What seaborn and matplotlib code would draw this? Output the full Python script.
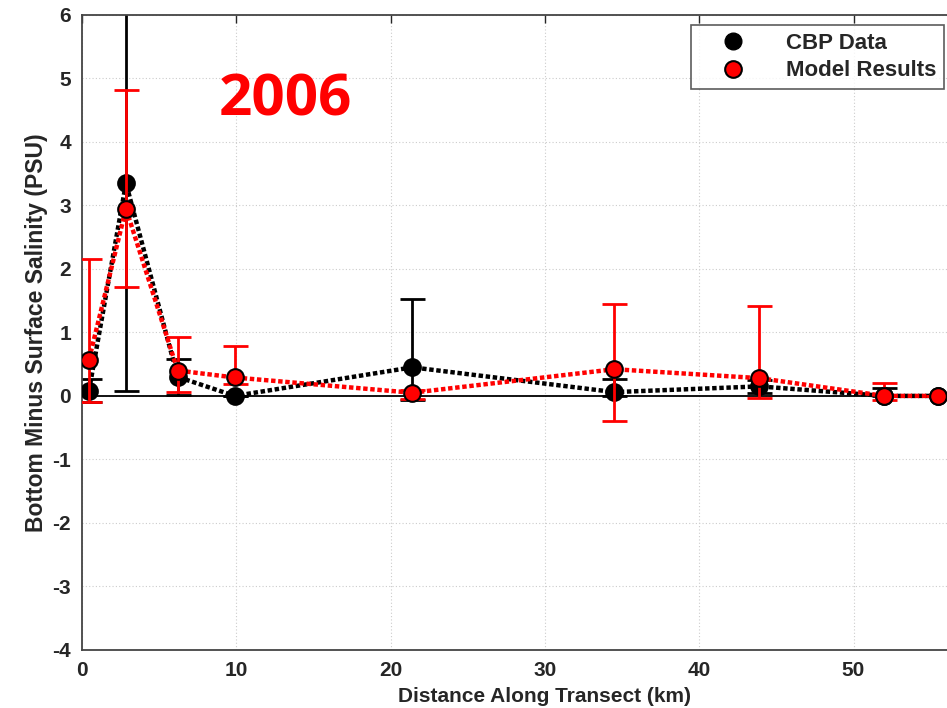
import numpy as np
import pandas as pd
import matplotlib
matplotlib.use("Agg")
import matplotlib.pyplot as plt
import seaborn as sns

# Station distances along the transect (km)
distance_km = [0.45, 2.85, 6.2, 9.9, 21.4, 34.5, 43.9, 52.0, 55.5]

# Bottom-minus-surface salinity (PSU) and error bar extents
cbp_values = [0.08, 3.35, 0.30, 0.00, 0.45, 0.06, 0.15, 0.00, 0.00]
cbp_err_low = [0.18, 3.28, 0.28, 0.00, 0.51, 0.06, 0.10, 0.00, 0.00]
cbp_err_high = [0.18, 3.28, 0.28, 0.00, 1.08, 0.21, 0.10, 0.12, 0.00]

model_values = [0.57, 2.95, 0.40, 0.29, 0.05, 0.42, 0.28, 0.00, 0.00]
model_err_low = [0.67, 1.23, 0.34, 0.10, 0.10, 0.81, 0.31, 0.07, 0.00]
model_err_high = [1.58, 1.87, 0.52, 0.50, 0.05, 1.02, 1.13, 0.20, 0.00]

series_names = ["CBP Data", "Model Results"]
year_label = "2006"
x_ticks = [0, 10, 20, 30, 40, 50]

df = pd.concat([
    pd.DataFrame({"distance": distance_km, "salinity": cbp_values, "source": series_names[0]}),
    pd.DataFrame({"distance": distance_km, "salinity": model_values, "source": series_names[1]}),
])

sns.set_style("white")
plt.rcParams["font.family"] = ["Liberation Sans", "DejaVu Sans"]
plt.rcParams["axes.unicode_minus"] = False

fig = plt.figure(figsize=(9.47, 7.08), dpi=100)
ax = fig.add_axes([0.0866, 0.082, 60 * 15.43 / 947, 0.897])

colors = {series_names[0]: "black", series_names[1]: "red"}
errs = {series_names[0]: (cbp_values, cbp_err_low, cbp_err_high),
        series_names[1]: (model_values, model_err_low, model_err_high)}

for i, name in enumerate(series_names):
    vals, lo, hi = errs[name]
    ax.errorbar(distance_km, vals, yerr=[lo, hi], fmt="none",
                ecolor=colors[name], elinewidth=2.0, capsize=9, capthick=2.0,
                zorder=2 + 2 * i)
    sub = df[df["source"] == name]
    sns.lineplot(data=sub, x="distance", y="salinity", ax=ax,
                 color=colors[name], linestyle=(0, (1.0, 0.6)), linewidth=3.2,
                 marker="o", markersize=12, markerfacecolor=colors[name],
                 markeredgecolor="black", markeredgewidth=1.5,
                 zorder=3 + 2 * i, legend=False, estimator=None)

ax.axhline(0, color="black", linewidth=1.3, zorder=1)

ax.set_xlim(0, 60)
ax.set_ylim(-4, 6)
ax.set_xticks(x_ticks)
ax.set_yticks(np.arange(-4, 7, 1))
ax.grid(True, color="#cccccc", linestyle=(0, (1, 2)), linewidth=0.8)
ax.tick_params(direction="in", length=6, width=1, labelsize=15, pad=8,
               top=True, right=True)
for lbl in ax.get_xticklabels() + ax.get_yticklabels():
    lbl.set_fontweight("bold")
for sp in ax.spines.values():
    sp.set_color("#444444")
    sp.set_linewidth(1.3)

ax.set_xlabel("Distance Along Transect (km)", fontsize=15, fontweight="bold", labelpad=5)
ax.set_ylabel("Bottom Minus Surface Salinity (PSU)", fontsize=16.5, fontweight="bold", labelpad=3)

ax.text(285, 708 - 101, year_label, transform=None, color="red", fontsize=42,
        fontweight="bold", ha="center", va="center",
        family=["Open Sans", "DejaVu Sans"])

handles = [
    plt.Line2D([], [], linestyle="none", marker="o", markersize=12,
               markerfacecolor="black", markeredgecolor="black"),
    plt.Line2D([], [], linestyle="none", marker="o", markersize=12,
               markerfacecolor="red", markeredgecolor="black", markeredgewidth=1.5),
]
leg = fig.legend(handles, series_names, loc="upper right",
                 bbox_to_anchor=(944 / 947, 1 - 25 / 708),
                 prop={"weight": "bold", "size": 16}, frameon=True, fancybox=False,
                 edgecolor="#333333", borderpad=0.35, handletextpad=0.9,
                 labelspacing=0.3, handlelength=3.0, borderaxespad=0.0)
leg.get_frame().set_linewidth(1.2)

fig.savefig("out.png", dpi=100)
